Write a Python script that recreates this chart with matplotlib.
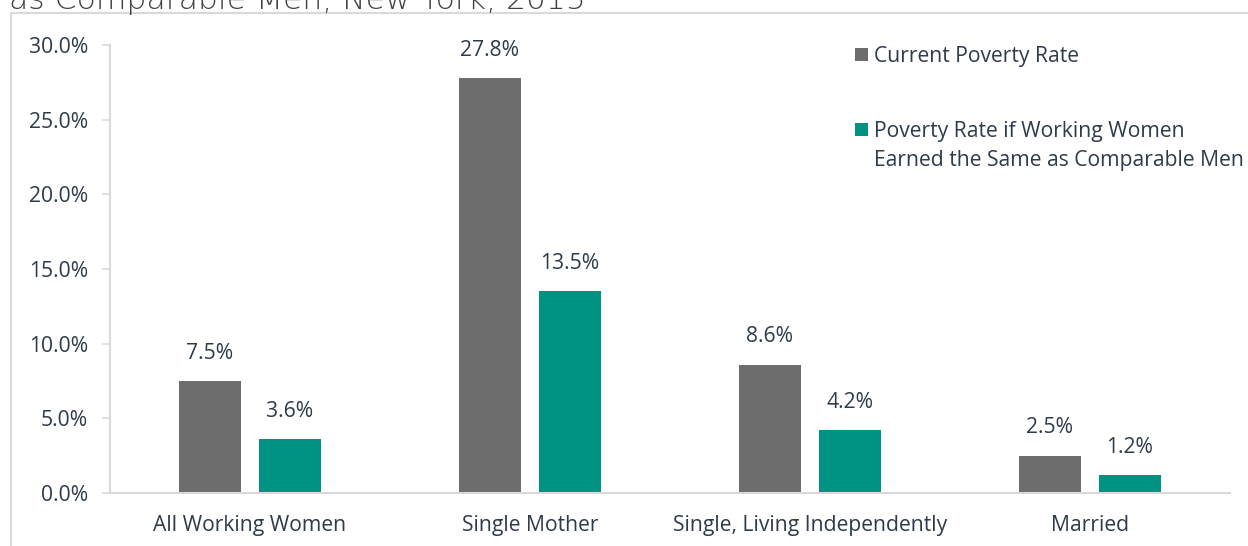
import matplotlib
matplotlib.use("Agg")
import matplotlib.pyplot as plt
import numpy as np
from matplotlib.lines import Line2D
from matplotlib.ticker import FuncFormatter

categories = ["All Working Women", "Single Mother", "Single, Living Independently", "Married"]
current_rate = [7.5, 27.8, 8.6, 2.5]
equal_pay_rate = [3.6, 13.5, 4.2, 1.2]
series_labels = ["Current Poverty Rate", "Poverty Rate if Working Women"]
label_extra_line = "Earned the Same as Comparable Men"
yticks = [0, 5, 10, 15, 20, 25, 30]

GREY = "#6D6D6D"
TEAL = "#009382"
TEXT = "#2E3B4B"
LINE = "#D9D9D9"
FS = 15.2

plt.rcParams["font.family"] = ["Open Sans", "DejaVu Sans"]

W, H = 1248, 546
fig = plt.figure(figsize=(W / 100, H / 100), dpi=100)

# outer chart frame (partly cut off at right and bottom)
fig.add_artist(Line2D([11 / W, 11 / W], [0, 1 - 13 / H], color=LINE, lw=1.5))
fig.add_artist(Line2D([11 / W, 1], [1 - 13 / H, 1 - 13 / H], color=LINE, lw=1.5))

# title, clipped by the top edge as in the source image
fig.text(9 / W, 1 - 9 / H, "as Comparable Men, New York, 2015",
         fontsize=22.6, color="#404040", va="baseline", ha="left",
         family=["DejaVu Sans"], fontweight="light")

ax = fig.add_axes([110 / W, 53 / H, 1120 / W, 448 / H])
ax.set_ylim(0, 30)
ax.set_xlim(-0.5, len(categories) - 0.5)

x = np.arange(len(categories))
bw = 0.221
off = 0.143
b1 = ax.bar(x - off, current_rate, bw, color=GREY, label=series_labels[0], zorder=2)
b2 = ax.bar(x + off, equal_pay_rate, bw, color=TEAL, label=series_labels[1], zorder=2)

for bars, vals in ((b1, current_rate), (b2, equal_pay_rate)):
    for r, v in zip(bars, vals):
        ax.text(r.get_x() + r.get_width() / 2, v + 1.15, f"{v:.1f}%",
                ha="center", va="bottom", fontsize=FS, color=TEXT)

ax.set_yticks(yticks)
ax.yaxis.set_major_formatter(FuncFormatter(lambda v, p: f"{v:.1f}%"))
ax.set_xticks(x)
ax.set_xticklabels(categories)
ax.tick_params(axis="y", labelsize=FS, labelcolor=TEXT, length=6, width=1.2,
               color=LINE, direction="out", pad=10)
ax.tick_params(axis="x", labelsize=FS, labelcolor=TEXT, length=0, pad=16)
for s in ("top", "right"):
    ax.spines[s].set_visible(False)
for s in ("left", "bottom"):
    ax.spines[s].set_color(LINE)
    ax.spines[s].set_linewidth(1.5)

leg = ax.legend(loc="upper left", bbox_to_anchor=(726 / 1120, 1.04), frameon=False,
                fontsize=FS, labelcolor=TEXT, handlelength=0.6, handleheight=0.6,
                handletextpad=0.3, labelspacing=2.55)

# second line of the teal legend label, set under the first one
fig.canvas.draw()
tb = leg.get_texts()[1].get_window_extent()
fig.text(tb.x0 / W, (tb.y0 - 29) / H, label_extra_line,
         fontsize=FS, color=TEXT, ha="left", va="bottom")

fig.savefig("out.png", dpi=100)
